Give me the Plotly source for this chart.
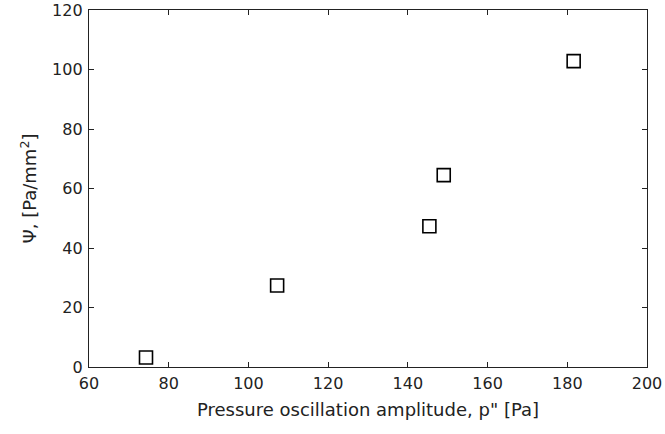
import plotly.graph_objects as go

pressure_amp = [74.3, 107.2, 145.4, 149.0, 181.6]
psi = [3.2, 27.4, 47.3, 64.5, 102.8]

x_ticks = [60, 80, 100, 120, 140, 160, 180, 200]
y_ticks = [0, 20, 40, 60, 80, 100, 120]

fig = go.Figure()
fig.add_trace(go.Scatter(
    x=pressure_amp, y=psi, mode="markers",
    marker=dict(symbol="square-open", size=13, color="black", line=dict(width=1.6, color="black")),
    showlegend=False,
    cliponaxis=False,
))

tick_font = dict(family="DejaVu Sans, Liberation Sans, sans-serif", size=16, color="#222")
title_font = dict(family="DejaVu Sans, Liberation Sans, sans-serif", size=18, color="#222")
axis_common = dict(
    showgrid=False, zeroline=False, showline=True, linecolor="#222", linewidth=1.3,
    mirror="ticks", ticks="inside", ticklen=5, tickwidth=1.3, tickcolor="#222",
    tickfont=tick_font, automargin=False, ticklabeloverflow="allow",
)
fig.update_layout(
    width=665, height=434,
    margin=dict(l=89, r=18, t=10, b=67),
    paper_bgcolor="white", plot_bgcolor="white",
    font=tick_font,
    xaxis=dict(range=[60, 200], tickvals=x_ticks, ticklabelstandoff=2,
               title=dict(text='Pressure oscillation amplitude, p" [Pa]', font=title_font, standoff=11),
               **axis_common),
    yaxis=dict(range=[0, 120], tickvals=y_ticks, ticklabelstandoff=2,
               title=dict(text="Ψ, [Pa/mm<sup>2</sup>]", font=title_font, standoff=10),
               **axis_common),
)
fig.write_html("out.html", config={"displayModeBar": False},
               post_script="document.body.style.margin='0';document.body.style.overflow='hidden';")
